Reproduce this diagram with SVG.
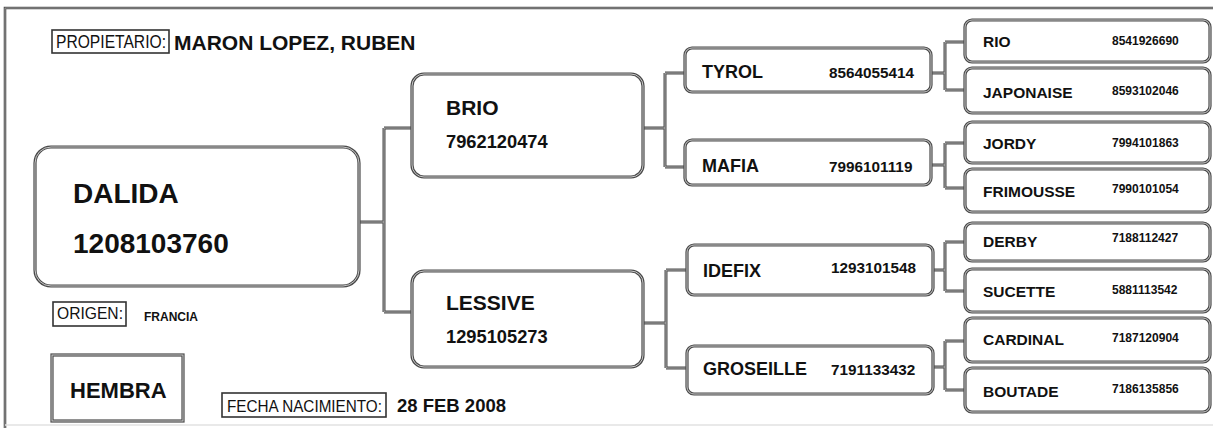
<svg xmlns="http://www.w3.org/2000/svg" width="1215" height="428" viewBox="0 0 1215 428">
<style>
.b{fill:#fff;stroke:#4a4a4a;stroke-width:3.2}
.bi{fill:none;stroke:#d6d6d6;stroke-width:0.9}
.w{fill:none;stroke:#4a4a4a;stroke-width:3}
.wi{fill:none;stroke:#c8c8c8;stroke-width:0.8}
.lb{fill:#fff;stroke:#333;stroke-width:1.6}
text{font-family:"Liberation Sans",Arial,sans-serif;fill:#111}
.bd{font-weight:bold}
.n3{font-weight:bold;font-size:15.5px}
.d3{font-weight:bold;font-size:12px}
.n2{font-weight:bold;font-size:18px}
.d2{font-weight:bold;font-size:15.3px}
</style>
<rect width="1215" height="428" fill="#fff"/>
<g id="frame">
<path d="M5,428 V8 H1213" fill="none" stroke="#555" stroke-width="2.6"/>
<path d="M5,428 V8 H1213" fill="none" stroke="#bbb" stroke-width="0.6"/>
<line x1="5" y1="425" x2="1213" y2="425" stroke="#e2e2e2" stroke-width="1.5"/>
</g>
<g id="connectors">
<path class="w" d="M359,222 H384 M384,128 V312 M384,128 H412 M384,312 H412 M643,128 H665 M665,73 V167 M665,73 H685 M665,167 H685 M643,323 H666 M666,270 V368 M666,270 H687 M666,368 H687 M931,73 H945 M945,42 V90 M945,42 H965 M945,90 H965 M931,165 H945 M945,143 V188 M945,143 H965 M945,188 H965 M933,270 H945 M945,242 V291 M945,242 H965 M945,291 H965 M933,367 H945 M945,341 V390 M945,341 H965 M945,390 H965"/>
<path class="wi" d="M359,222 H384 M384,128 V312 M384,128 H412 M384,312 H412 M643,128 H665 M665,73 V167 M665,73 H685 M665,167 H685 M643,323 H666 M666,270 V368 M666,270 H687 M666,368 H687 M931,73 H945 M945,42 V90 M945,42 H965 M945,90 H965 M931,165 H945 M945,143 V188 M945,143 H965 M945,188 H965 M933,270 H945 M945,242 V291 M945,242 H965 M945,291 H965 M933,367 H945 M945,341 V390 M945,341 H965 M945,390 H965"/>
</g>
<g id="propietario">
<rect class="lb" x="52" y="30" width="117" height="23"/>
<text x="56" y="48" font-size="18" textLength="110" lengthAdjust="spacingAndGlyphs">PROPIETARIO:</text>
<text x="174" y="50" class="bd" font-size="21">MARON LOPEZ, RUBEN</text>
</g>
<g id="dalida">
<rect class="b" x="35" y="147" width="324" height="139" rx="16"/>
<rect class="bi" x="35" y="147" width="324" height="139" rx="16"/>
<text x="73" y="203" class="bd" font-size="28">DALIDA</text>
<text x="73" y="253" class="bd" font-size="28">1208103760</text>
</g>
<g id="origen">
<rect class="lb" x="53" y="302" width="73" height="24"/>
<text x="57" y="319" font-size="17" textLength="66" lengthAdjust="spacingAndGlyphs">ORIGEN:</text>
<text x="144" y="321" class="bd" font-size="12">FRANCIA</text>
</g>
<g id="hembra">
<rect class="b" x="52" y="355" width="131" height="66"/>
<rect class="bi" x="52" y="355" width="131" height="66"/>
<text x="70" y="398" class="bd" font-size="22">HEMBRA</text>
</g>
<g id="fecha">
<rect class="lb" x="222" y="393" width="164" height="24"/>
<text x="227" y="412" font-size="17" textLength="155" lengthAdjust="spacingAndGlyphs">FECHA NACIMIENTO:</text>
<text x="397" y="412" class="bd" font-size="18.5">28 FEB 2008</text>
</g>
<g id="brio">
<rect class="b" x="412" y="74" width="231" height="103" rx="12"/>
<rect class="bi" x="412" y="74" width="231" height="103" rx="12"/>
<text x="446" y="115" class="bd" font-size="21">BRIO</text>
<text x="446" y="148" class="bd" font-size="18.3">7962120474</text>
</g>
<g id="lessive">
<rect class="b" x="412" y="271" width="231" height="96" rx="12"/>
<rect class="bi" x="412" y="271" width="231" height="96" rx="12"/>
<text x="446" y="310" class="bd" font-size="21">LESSIVE</text>
<text x="446" y="343" class="bd" font-size="18.3">1295105273</text>
</g>
<g id="tyrol">
<rect class="b" x="685" y="48" width="246" height="44" rx="7"/>
<rect class="bi" x="685" y="48" width="246" height="44" rx="7"/>
<text x="702" y="78" class="n2">TYROL</text>
<text x="829" y="78" class="d2">8564055414</text>
</g>
<g id="mafia">
<rect class="b" x="685" y="140" width="246" height="45" rx="7"/>
<rect class="bi" x="685" y="140" width="246" height="45" rx="7"/>
<text x="702" y="172" class="n2">MAFIA</text>
<text x="829" y="172" class="d2">7996101119</text>
</g>
<g id="idefix">
<rect class="b" x="687" y="245" width="246" height="50" rx="7"/>
<rect class="bi" x="687" y="245" width="246" height="50" rx="7"/>
<text x="703" y="277" class="n2">IDEFIX</text>
<text x="831" y="273" class="d2">1293101548</text>
</g>
<g id="groseille">
<rect class="b" x="687" y="346" width="246" height="48" rx="7"/>
<rect class="bi" x="687" y="346" width="246" height="48" rx="7"/>
<text x="703" y="375" class="n2">GROSEILLE</text>
<text x="831" y="375" class="d2">7191133432</text>
</g>
<g id="rio">
<rect class="b" x="965" y="20" width="245" height="42" rx="7"/>
<rect class="bi" x="965" y="20" width="245" height="42" rx="7"/>
<text x="983" y="47" class="n3">RIO</text>
<text x="1112" y="45" class="d3">8541926690</text>
</g>
<g id="japonaise">
<rect class="b" x="965" y="68" width="245" height="45" rx="7"/>
<rect class="bi" x="965" y="68" width="245" height="45" rx="7"/>
<text x="983" y="98" class="n3">JAPONAISE</text>
<text x="1112" y="95" class="d3">8593102046</text>
</g>
<g id="jordy">
<rect class="b" x="965" y="122" width="245" height="41" rx="7"/>
<rect class="bi" x="965" y="122" width="245" height="41" rx="7"/>
<text x="983" y="149" class="n3">JORDY</text>
<text x="1112" y="147" class="d3">7994101863</text>
</g>
<g id="frimousse">
<rect class="b" x="965" y="169" width="245" height="43" rx="7"/>
<rect class="bi" x="965" y="169" width="245" height="43" rx="7"/>
<text x="983" y="197" class="n3">FRIMOUSSE</text>
<text x="1112" y="193" class="d3">7990101054</text>
</g>
<g id="derby">
<rect class="b" x="965" y="223" width="245" height="38" rx="7"/>
<rect class="bi" x="965" y="223" width="245" height="38" rx="7"/>
<text x="983" y="247" class="n3">DERBY</text>
<text x="1112" y="242" class="d3">7188112427</text>
</g>
<g id="sucette">
<rect class="b" x="965" y="269" width="245" height="43" rx="7"/>
<rect class="bi" x="965" y="269" width="245" height="43" rx="7"/>
<text x="983" y="297" class="n3">SUCETTE</text>
<text x="1112" y="294" class="d3">5881113542</text>
</g>
<g id="cardinal">
<rect class="b" x="965" y="318" width="245" height="44" rx="7"/>
<rect class="bi" x="965" y="318" width="245" height="44" rx="7"/>
<text x="983" y="345" class="n3">CARDINAL</text>
<text x="1112" y="342" class="d3">7187120904</text>
</g>
<g id="boutade">
<rect class="b" x="965" y="368" width="245" height="44" rx="7"/>
<rect class="bi" x="965" y="368" width="245" height="44" rx="7"/>
<text x="983" y="397" class="n3">BOUTADE</text>
<text x="1112" y="393" class="d3">7186135856</text>
</g>
</svg>
